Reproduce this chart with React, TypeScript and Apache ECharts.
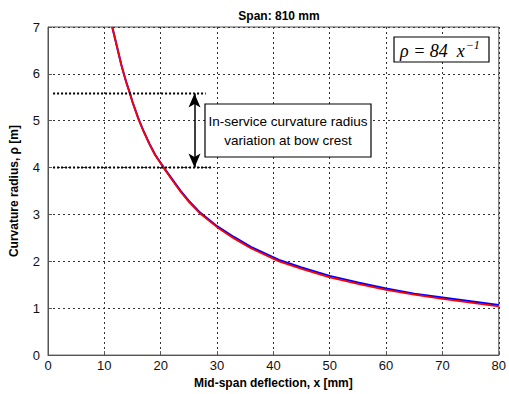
import React, { useEffect, useRef } from "react";
import * as echarts from "echarts";

const title = "Span: 810 mm";
const xName = "Mid-span deflection, x [mm]";
const yName = "Curvature radius, ρ [m]";
const xTicks = [0, 10, 20, 30, 40, 50, 60, 70, 80];
const yTicks = [0, 1, 2, 3, 4, 5, 6, 7];

// fitted curve (red)
const fitX = [11.4, 12, 12.5, 13, 13.5, 14, 14.5, 15, 16, 17, 18, 19, 20.5, 22, 23.5, 25, 27, 30, 33, 36, 41, 45, 50, 55, 60, 65, 70, 75, 80];
const fitY = [7.0, 6.7, 6.45, 6.2, 5.98, 5.78, 5.6, 5.4, 5.05, 4.76, 4.5, 4.27, 4.0, 3.74, 3.49, 3.27, 3.02, 2.73, 2.49, 2.28, 2.0, 1.84, 1.66, 1.52, 1.39, 1.29, 1.2, 1.12, 1.04];

// measured curve (blue)
const measX = [11.4, 12, 12.5, 13, 13.5, 14, 14.5, 15, 16, 17, 18, 19, 20.5, 22, 23.5, 25, 27, 30, 33, 36, 41, 45, 50, 55, 60, 65, 70, 75, 80];
const measY = [7.0, 6.7, 6.45, 6.2, 5.98, 5.78, 5.6, 5.4, 5.06, 4.77, 4.51, 4.28, 4.01, 3.76, 3.51, 3.29, 3.04, 2.75, 2.52, 2.31, 2.03, 1.87, 1.69, 1.55, 1.42, 1.31, 1.23, 1.15, 1.07];

// in-service range
const rangeTop = 5.58;
const rangeBottom = 4.0;
const rangeLineTopX = [0.9, 28];
const rangeLineBottomX = [0.9, 29];
const arrowX = 26;

export default function App() {
  const ref = useRef<HTMLDivElement>(null);
  useEffect(() => {
    if (!ref.current) return;
    const chart = echarts.init(ref.current, null, { renderer: "svg" });
    const font = "Arial, 'Liberation Sans', sans-serif";
    chart.setOption({
      animation: false,
      backgroundColor: "#ffffff",
      title: {
        text: title,
        left: 274,
        textAlign: "center",
        top: 5,
        textStyle: { fontSize: 12, fontWeight: "bold", color: "#000", fontFamily: font },
      },
      grid: {
        left: 45,
        right: 6,
        top: 27,
        bottom: 36,
        show: true,
        borderColor: "#555",
        borderWidth: 1,
        backgroundColor: "transparent",
      },
      xAxis: {
        type: "value",
        min: xTicks[0],
        max: xTicks[xTicks.length - 1],
        interval: 10,
        name: xName,
        nameLocation: "middle",
        nameGap: 20,
        nameTextStyle: { fontSize: 12, fontWeight: "bold", color: "#000", fontFamily: font },
        axisLine: { show: true, lineStyle: { color: "#555" } },
        axisTick: { show: true, inside: true, length: 4, lineStyle: { color: "#555" } },
        axisLabel: { fontSize: 13, color: "#111", fontFamily: font, margin: 4 },
        splitLine: { show: true, lineStyle: { color: "#333", type: [2, 3], width: 1 } },
      },
      yAxis: {
        type: "value",
        min: yTicks[0],
        max: yTicks[yTicks.length - 1],
        interval: 1,
        name: yName,
        nameLocation: "middle",
        nameGap: 28,
        nameTextStyle: { fontSize: 12, fontWeight: "bold", color: "#000", fontFamily: font },
        axisLine: { show: true, lineStyle: { color: "#555" } },
        axisTick: { show: true, inside: true, length: 4, lineStyle: { color: "#555" } },
        axisLabel: { fontSize: 13, color: "#111", fontFamily: font, margin: 8 },
        splitLine: { show: true, lineStyle: { color: "#333", type: [2, 3], width: 1 } },
      },
      series: [
        {
          type: "line",
          data: measX.map((x, i) => [x, measY[i]]),
          showSymbol: false,
          smooth: false,
          lineStyle: { color: "#0000ff", width: 2 },
          z: 2,
        },
        {
          type: "line",
          data: fitX.map((x, i) => [x, fitY[i]]),
          showSymbol: false,
          smooth: false,
          lineStyle: { color: "#ff0000", width: 1.8 },
          z: 3,
        },
        {
          type: "line",
          data: rangeLineTopX.map((x) => [x, rangeTop]),
          showSymbol: false,
          lineStyle: { color: "#000", width: 2, type: [2, 2] },
          z: 4,
        },
        {
          type: "line",
          data: rangeLineBottomX.map((x) => [x, rangeBottom]),
          showSymbol: false,
          lineStyle: { color: "#000", width: 2, type: [2, 2] },
          z: 4,
        },
        {
          type: "line",
          data: [],
          markLine: {
            silent: true,
            symbol: ["arrow", "arrow"],
            symbolSize: [9, 14],
            label: { show: false },
            lineStyle: { color: "#000", width: 1.5, type: "solid" },
            data: [[{ coord: [arrowX, rangeTop] }, { coord: [arrowX, rangeBottom] }]],
          },
          z: 5,
        },
      ],
      graphic: [
        {
          type: "rect",
          shape: { x: 205, y: 104, width: 166, height: 53 },
          style: { fill: "#fff", stroke: "#000", lineWidth: 1.2 },
          z: 100,
        },
        {
          type: "text",
          x: 288,
          y: 130.5,
          style: {
            text: "In-service curvature radius\nvariation at bow crest",
            fill: "#000",
            font: "13.5px Arial, 'Liberation Sans', sans-serif",
            align: "center",
            verticalAlign: "middle",
            lineHeight: 19,
          },
          z: 101,
        },
        {
          type: "rect",
          shape: { x: 394, y: 37, width: 95, height: 25 },
          style: { fill: "#fff", stroke: "#000", lineWidth: 1.2 },
          z: 100,
        },
        {
          type: "text",
          x: 400,
          y: 51,
          style: {
            text: "{a|ρ = 84  x}{b|−1}",
            rich: {
              a: { font: "italic 18px 'Liberation Serif', 'Times New Roman', serif", fill: "#000", verticalAlign: "middle" },
              b: { font: "italic 12px 'Liberation Serif', 'Times New Roman', serif", fill: "#000", padding: [0, 0, 12, 1] },
            },
            verticalAlign: "middle",
          },
          z: 101,
        },
      ],
    });
    return () => chart.dispose();
  }, []);
  return (
    <div
      ref={ref}
      style={{ position: "fixed", left: 0, top: 0, width: 509, height: 394, background: "#fff" }}
    />
  );
}
